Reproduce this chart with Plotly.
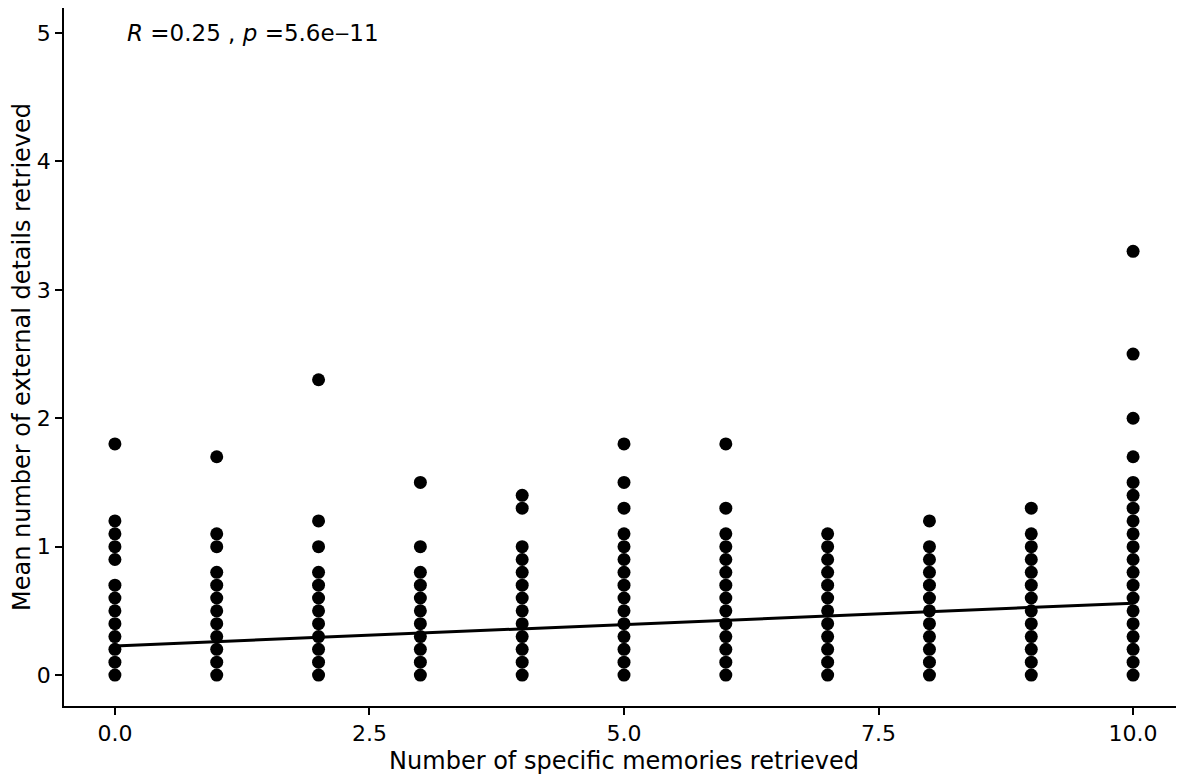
import plotly.graph_objects as go

# Unique (overplotted) points per number of specific memories retrieved
specific_counts = [0, 1, 2, 3, 4, 5, 6, 7, 8, 9, 10]
external_means = [
    [0, 0.1, 0.2, 0.3, 0.4, 0.5, 0.6, 0.7, 0.9, 1.0, 1.1, 1.2, 1.8],
    [0, 0.1, 0.2, 0.3, 0.4, 0.5, 0.6, 0.7, 0.8, 1.0, 1.1, 1.7],
    [0, 0.1, 0.2, 0.3, 0.4, 0.5, 0.6, 0.7, 0.8, 1.0, 1.2, 2.3],
    [0, 0.1, 0.2, 0.3, 0.4, 0.5, 0.6, 0.7, 0.8, 1.0, 1.5],
    [0, 0.1, 0.2, 0.3, 0.4, 0.5, 0.6, 0.7, 0.8, 0.9, 1.0, 1.3, 1.4],
    [0, 0.1, 0.2, 0.3, 0.4, 0.5, 0.6, 0.7, 0.8, 0.9, 1.0, 1.1, 1.3, 1.5, 1.8],
    [0, 0.1, 0.2, 0.3, 0.4, 0.5, 0.6, 0.7, 0.8, 0.9, 1.0, 1.1, 1.3, 1.8],
    [0, 0.1, 0.2, 0.3, 0.4, 0.5, 0.6, 0.7, 0.8, 0.9, 1.0, 1.1],
    [0, 0.1, 0.2, 0.3, 0.4, 0.5, 0.6, 0.7, 0.8, 0.9, 1.0, 1.2],
    [0, 0.1, 0.2, 0.3, 0.4, 0.5, 0.6, 0.7, 0.8, 0.9, 1.0, 1.1, 1.3],
    [0, 0.1, 0.2, 0.3, 0.4, 0.5, 0.6, 0.7, 0.8, 0.9, 1.0, 1.1, 1.2, 1.3, 1.4, 1.5, 1.7, 2.0, 2.5, 3.3],
]

# Linear fit line
fit_x = [0, 10]
fit_y = [0.227, 0.56]

x_ticks = [0.0, 2.5, 5.0, 7.5, 10.0]
x_tick_labels = ["0.0", "2.5", "5.0", "7.5", "10.0"]
y_ticks = [0, 1, 2, 3, 4, 5]

xs, ys = [], []
for c, vals in zip(specific_counts, external_means):
    for v in vals:
        xs.append(c)
        ys.append(v)

fig = go.Figure()
fig.add_trace(go.Scatter(
    x=xs, y=ys, mode="markers",
    marker=dict(color="black", size=13),
    showlegend=False, hoverinfo="x+y",
))
fig.add_trace(go.Scatter(
    x=fit_x, y=fit_y, mode="lines",
    line=dict(color="black", width=3),
    showlegend=False,
))

fig.add_annotation(
    x=0.1, y=5, xref="x", yref="y",
    text="<i>R</i> =0.25 , <i>p</i> =5.6e\u201211",
    showarrow=False, xanchor="left", yanchor="middle",
    font=dict(size=23, color="black", family="DejaVu Sans"),
)

axis_common = dict(
    showgrid=False, zeroline=False, showline=True, linecolor="black", linewidth=1.5,
    ticks="outside", ticklen=7, tickwidth=1.5, tickcolor="black",
    tickfont=dict(size=22, color="black", family="DejaVu Sans"),
    automargin=False,
)

# page has an 8px body margin, so the figure is sized/offset to compensate
fig.update_layout(
    width=1176, height=770,
    margin=dict(l=56, r=0, t=0, b=72),
    plot_bgcolor="white", paper_bgcolor="white",
    font=dict(family="DejaVu Sans", color="black"),
    xaxis=dict(
        range=[-0.5, 10.5], tickvals=x_ticks, ticktext=x_tick_labels,
        title=dict(text="Number of specific memories retrieved", font=dict(size=24), standoff=7),
        **axis_common,
    ),
    yaxis=dict(
        range=[-0.241, 5.195], tickvals=y_ticks,
        title=dict(text="Mean number of external details retrieved", font=dict(size=24), standoff=6),
        **axis_common,
    ),
)

fig.write_html("out.html")
